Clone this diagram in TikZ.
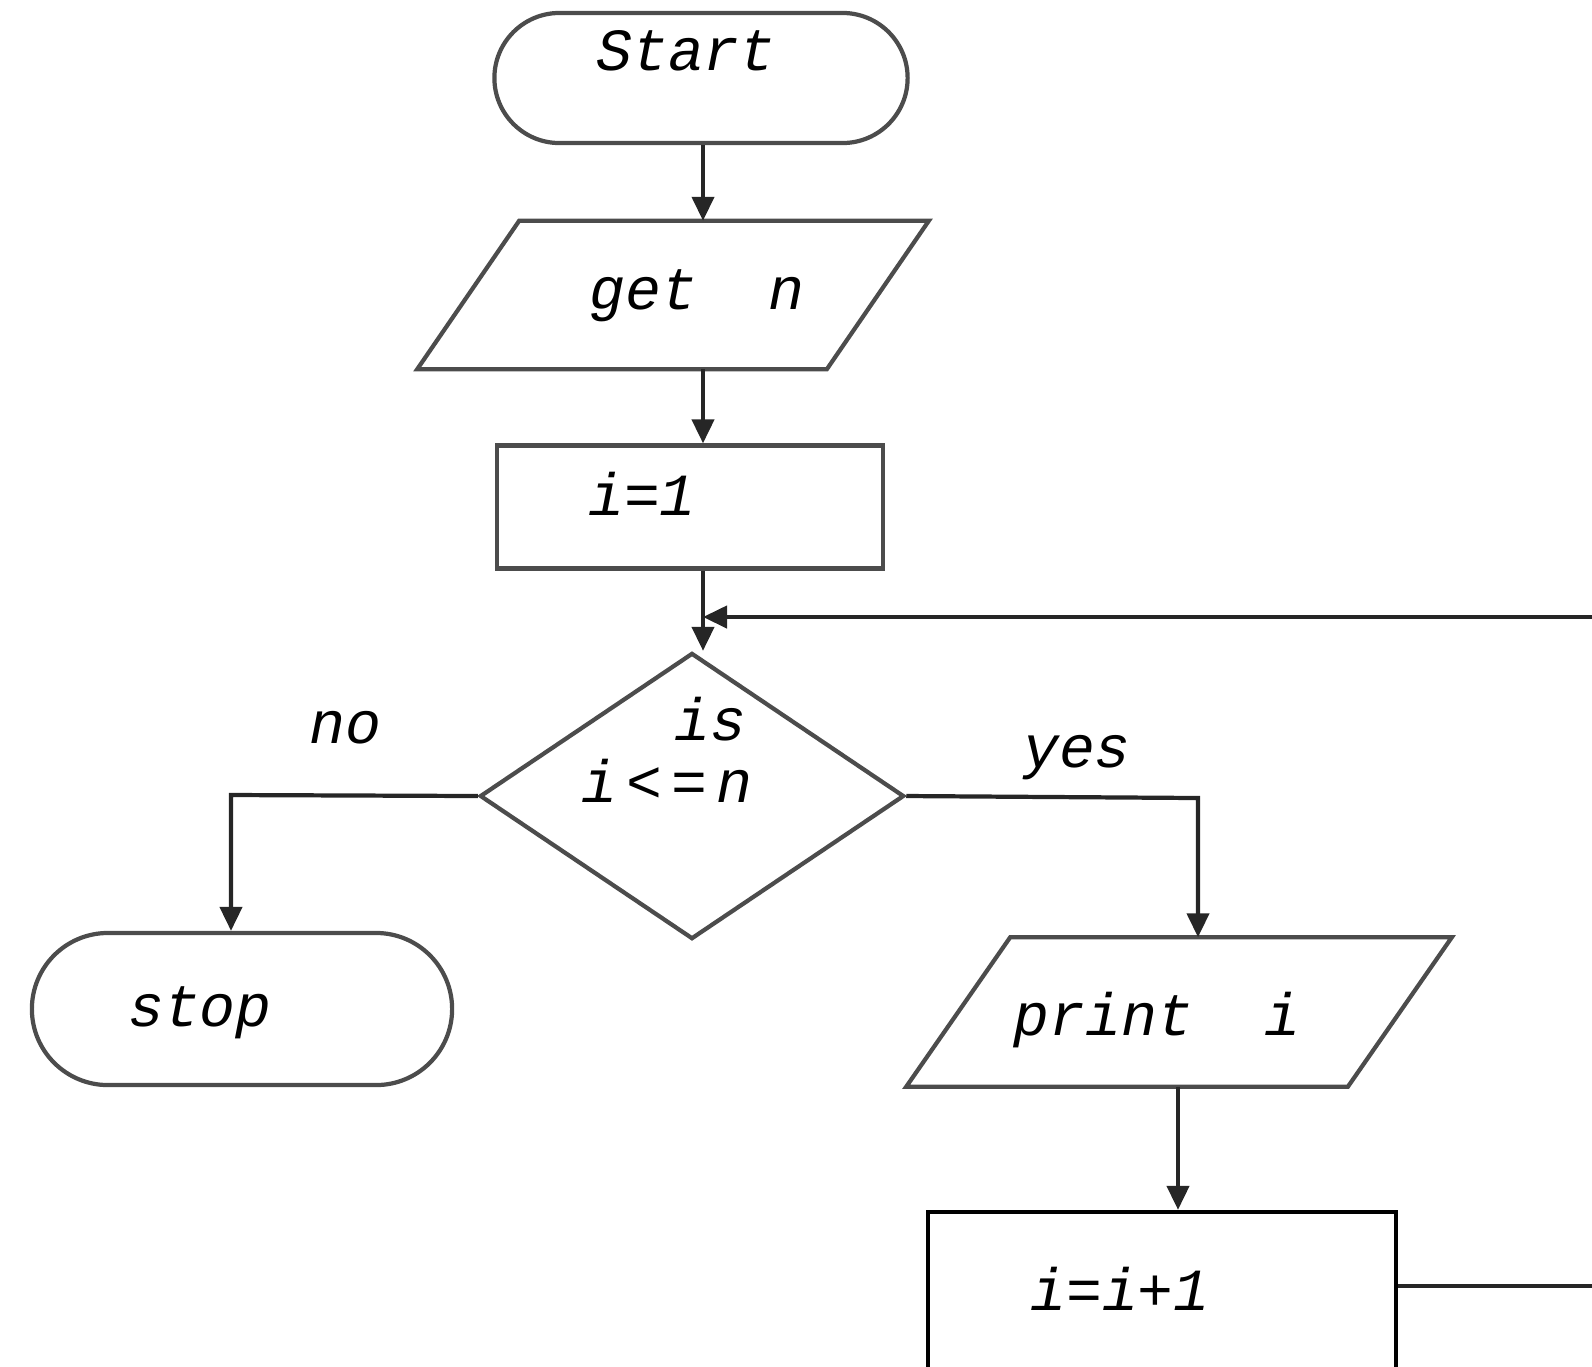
\documentclass[tikz,border=0pt]{standalone}
\usepackage{fontspec}
\setmonofont{Liberation Mono}
\usetikzlibrary{calc,shapes.geometric,shapes.misc,arrows.meta}

\begin{document}
\begin{tikzpicture}[x=0.01cm, y=-0.01cm,
    shapeline/.style={draw=black!70, line width=1.2pt, inner sep=0pt},
    terminal/.style={shapeline, rounded rectangle},
    inout/.style={rectangle, inner sep=0pt},
    process/.style={shapeline, rectangle},
    decision/.style={shapeline, diamond},
    txt/.style={font=\ttfamily\itshape\fontsize{17}{20}\selectfont, inner sep=0pt, anchor=base},
    link/.style={draw=black!85, line width=1.2pt},
    arrow/.style={link, -{Triangle[length=0.24cm, width=0.22cm]}}]
    \useasboundingbox (0,0) rectangle (1592,1366);
    \clip (0,0) rectangle (1592,1366);
    % Draw the shapes
    \node[terminal, minimum width=4.13cm, minimum height=1.30cm] (start) at (701,78) {};
    \node[inout, minimum width=4.08cm, minimum height=1.47cm] (getn) at (673,295) {};
    \node[process, minimum width=3.86cm, minimum height=1.23cm] (init) at (690,507) {};
    \node[decision, minimum width=4.24cm, minimum height=2.86cm] (test) at (692,796) {};
    \node[terminal, minimum width=4.20cm, minimum height=1.52cm] (stop) at (242,1009) {};
    \node[inout, minimum width=4.40cm, minimum height=1.48cm] (print) at (1179,1012) {};
    \node[process, draw=black, minimum width=4.67cm, minimum height=2.40cm] (inc) at (1162,1332) {};
    % Slanted sides of the input and output boxes
    \draw[shapeline] ($(getn.north west)+(51,0)$) -- ($(getn.north east)+(51,0)$)
        -- ($(getn.south east)-(51,0)$) -- ($(getn.south west)-(51,0)$) -- cycle;
    \draw[shapeline] ($(print.north west)+(52,0)$) -- ($(print.north east)+(52,0)$)
        -- ($(print.south east)-(52,0)$) -- ($(print.south west)-(52,0)$) -- cycle;
    % Draw the texts
    \node[txt] (starttxt) at (686,70) {Start};
    \node[txt] (getntxt) at (697,309) {get~~n};
    \node[txt] (inittxt) at (642,515) {i=1};
    \node[txt] (istxt) at (710,740) {is};
    \node[txt] (condtxt) at (667,802) {i\hspace{0.15em}<\hspace{0.15em}=\hspace{0.15em}n};
    \node[txt] (notxt) at (345,743) {no};
    \node[txt] (yestxt) at (1077,767) {yes};
    \node[txt] (stoptxt) at (200,1026) {stop};
    \node[txt] (printtxt) at (1157,1035) {print~~i};
    \node[txt] (inctxt) at (1120,1310) {i=i+1};
    % Turning points of the connectors
    \coordinate (spine) at (703,0);
    \coordinate (noturn) at (231,795);
    \coordinate (yesturn) at (1198,798);
    \coordinate (down) at (1178,0);
    \coordinate (incout) at (1395,1286);
    \coordinate (back) at (1700,617);
    % Draw the connectors
    \draw[arrow] (spine |- start.south) -- (spine |- getn.north);
    \draw[arrow] (spine |- getn.south) -- (spine |- init.north);
    \draw[arrow] (spine |- init.south) -- (spine |- test.north);
    \draw[arrow] (test.west) -- (noturn) -- (noturn |- stop.north);
    \draw[arrow] (test.east) -- (yesturn) -- (yesturn |- print.north);
    \draw[arrow] (down |- print.south) -- (down |- inc.north);
    \draw[arrow] (inc.east |- incout) -| (back) -- (spine |- back);
\end{tikzpicture}
\end{document}
